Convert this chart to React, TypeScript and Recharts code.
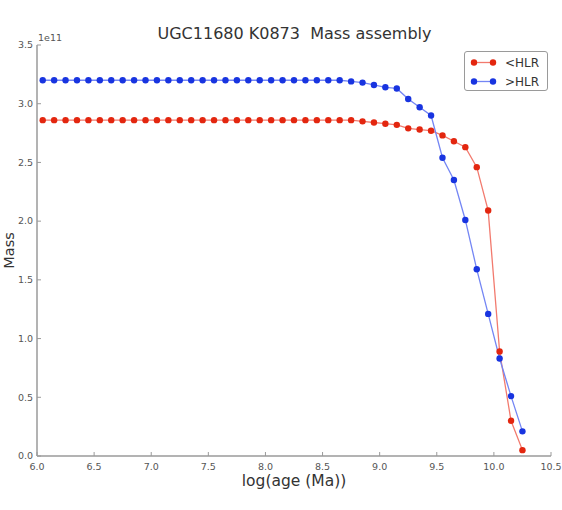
import React from 'react'
import { LineChart, Line, XAxis, YAxis } from 'recharts'

// log(age) grid and mass curves (units of 1e11)
const ages = [
    6.05, 6.15, 6.25, 6.35, 6.45, 6.55, 6.65, 6.75, 6.85, 6.95,
    7.05, 7.15, 7.25, 7.35, 7.45, 7.55, 7.65, 7.75, 7.85, 7.95,
    8.05, 8.15, 8.25, 8.35, 8.45, 8.55, 8.65, 8.75, 8.85, 8.95,
    9.05, 9.15, 9.25, 9.35, 9.45, 9.55, 9.65, 9.75, 9.85, 9.95,
    10.05, 10.15, 10.25,
]

const innerMass = [
    2.86, 2.86, 2.86, 2.86, 2.86, 2.86, 2.86, 2.86, 2.86, 2.86,
    2.86, 2.86, 2.86, 2.86, 2.86, 2.86, 2.86, 2.86, 2.86, 2.86,
    2.86, 2.86, 2.86, 2.86, 2.86, 2.86, 2.86, 2.86, 2.85, 2.84,
    2.83, 2.82, 2.79, 2.78, 2.77, 2.73, 2.68, 2.63, 2.46, 2.09,
    0.89, 0.30, 0.05,
]

const outerMass = [
    3.20, 3.20, 3.20, 3.20, 3.20, 3.20, 3.20, 3.20, 3.20, 3.20,
    3.20, 3.20, 3.20, 3.20, 3.20, 3.20, 3.20, 3.20, 3.20, 3.20,
    3.20, 3.20, 3.20, 3.20, 3.20, 3.20, 3.20, 3.19, 3.18, 3.16,
    3.14, 3.13, 3.04, 2.97, 2.90, 2.54, 2.35, 2.01, 1.59, 1.21,
    0.83, 0.51, 0.21,
]

const xTicks = [6.0, 6.5, 7.0, 7.5, 8.0, 8.5, 9.0, 9.5, 10.0, 10.5]
const yTicks = [0.0, 0.5, 1.0, 1.5, 2.0, 2.5, 3.0, 3.5]

const series = [
    { key: 'inner', name: '<HLR', line: '#f27a6e', dot: '#e3260f' },
    { key: 'outer', name: '>HLR', line: '#7486f4', dot: '#1834e0' },
]

const data = ages.map((age, i) => ({ age, inner: innerMass[i], outer: outerMass[i] }))

const FONT = '"DejaVu Sans", sans-serif'
const FRAME = '#9a9a9a'
const TICK_TXT = '#555'

const BottomTick = (props: any) => {
    const { x, y, payload } = props
    return (
        <g>
            <line x1={x} x2={x} y1={y} y2={y - 4} stroke={FRAME} />
            <text x={x} y={y + 13.5} textAnchor="middle" fontSize={9.5} fill={TICK_TXT} fontFamily={FONT}>
                {payload.value.toFixed(1)}
            </text>
        </g>
    )
}

const LeftTick = (props: any) => {
    const { x, y, payload } = props
    return (
        <g>
            <line x1={x} x2={x + 4} y1={y} y2={y} stroke={FRAME} />
            <text x={x - 4} y={y} dy="0.35em" textAnchor="end" fontSize={9.5} fill={TICK_TXT} fontFamily={FONT}>
                {payload.value.toFixed(1)}
            </text>
        </g>
    )
}

const TopTick = (props: any) => {
    const { x, y } = props
    return <line x1={x} x2={x} y1={y} y2={y + 4} stroke={FRAME} />
}

const RightTick = (props: any) => {
    const { x, y } = props
    return <line x1={x} x2={x - 4} y1={y} y2={y} stroke={FRAME} />
}

const xLabel = (props: any) => {
    const vb = props.viewBox
    return (
        <text x={vb.x + vb.width / 2} y={vb.y + 30} textAnchor="middle" fontSize={15.5} fill="#333" fontFamily={FONT}>
            log(age (Ma))
        </text>
    )
}

const yLabel = (props: any) => {
    const vb = props.viewBox
    const cy = vb.y + vb.height / 2
    return (
        <g>
            <text x={14} y={cy} transform={`rotate(-90 14 ${cy})`} textAnchor="middle" fontSize={14.5} fill="#333" fontFamily={FONT}>
                Mass
            </text>
            <text x={vb.x + vb.width + 1} y={vb.y - 4} fontSize={9.5} fill={TICK_TXT} fontFamily={FONT}>
                1e11
            </text>
        </g>
    )
}

function LegendBox() {
    return (
        <div
            style={{
                position: 'absolute', left: 464, top: 51, width: 82, height: 38,
                border: `1px solid ${FRAME}`, borderRadius: 3, background: '#fff',
                fontFamily: FONT, fontSize: 12, color: '#333',
            }}
        >
            {series.map((s, i) => (
                <div key={s.key} style={{ position: 'absolute', left: 0, top: 1 + i * 19, height: 19, display: 'flex', alignItems: 'center' }}>
                    <svg width={36} height={19} style={{ display: 'block' }}>
                        <line x1={9} x2={28} y1={9.5} y2={9.5} stroke={s.line} strokeWidth={1.3} />
                        <circle cx={9} cy={9.5} r={3.2} fill={s.dot} />
                        <circle cx={28} cy={9.5} r={3.2} fill={s.dot} />
                    </svg>
                    <span style={{ marginLeft: 4 }}>{s.name}</span>
                </div>
            ))}
        </div>
    )
}

export default function App() {
    return (
        <div style={{ position: 'absolute', left: 0, top: 0, width: 562, height: 510, background: '#fff', fontFamily: FONT }}>
            <div style={{ position: 'absolute', left: 37, top: 25, width: 515, textAlign: 'center', fontSize: 16, lineHeight: '18px', color: '#333' }}>
                UGC11680 K0873&nbsp;&nbsp;Mass assembly
            </div>
            <LineChart width={562} height={510} data={data} margin={{ top: 45, right: 11, bottom: 0, left: 0 }}>
                <XAxis
                    xAxisId="bottom"
                    dataKey="age"
                    type="number"
                    domain={[6, 10.5]}
                    ticks={xTicks}
                    interval={0}
                    height={54}
                    tickSize={0}
                    tickMargin={0}
                    tickLine={false}
                    tick={<BottomTick />}
                    axisLine={{ stroke: FRAME, strokeWidth: 1.5 }}
                    label={xLabel}
                />
                <XAxis
                    xAxisId="top"
                    orientation="top"
                    dataKey="age"
                    type="number"
                    domain={[6, 10.5]}
                    ticks={xTicks}
                    interval={0}
                    height={0}
                    tickSize={0}
                    tickMargin={0}
                    tickLine={false}
                    tick={<TopTick />}
                    axisLine={{ stroke: FRAME, strokeWidth: 1.5 }}
                />
                <YAxis
                    yAxisId="left"
                    type="number"
                    domain={[0, 3.5]}
                    ticks={yTicks}
                    interval={0}
                    width={37}
                    tickSize={0}
                    tickMargin={0}
                    tickLine={false}
                    tick={<LeftTick />}
                    axisLine={{ stroke: FRAME, strokeWidth: 1.5 }}
                    label={yLabel}
                />
                <YAxis
                    yAxisId="right"
                    orientation="right"
                    type="number"
                    domain={[0, 3.5]}
                    ticks={yTicks}
                    interval={0}
                    width={0}
                    tickSize={0}
                    tickMargin={0}
                    tickLine={false}
                    tick={<RightTick />}
                    axisLine={{ stroke: FRAME, strokeWidth: 1.5 }}
                />
                {series.map((s) => (
                    <Line
                        key={s.key}
                        xAxisId="bottom"
                        yAxisId="left"
                        type="linear"
                        dataKey={s.key}
                        name={s.name}
                        stroke={s.line}
                        strokeWidth={1.3}
                        dot={{ r: 3.2, fill: s.dot, stroke: s.dot, strokeWidth: 0 }}
                        activeDot={false}
                        isAnimationActive={false}
                    />
                ))}
            </LineChart>
            <LegendBox />
        </div>
    )
}
